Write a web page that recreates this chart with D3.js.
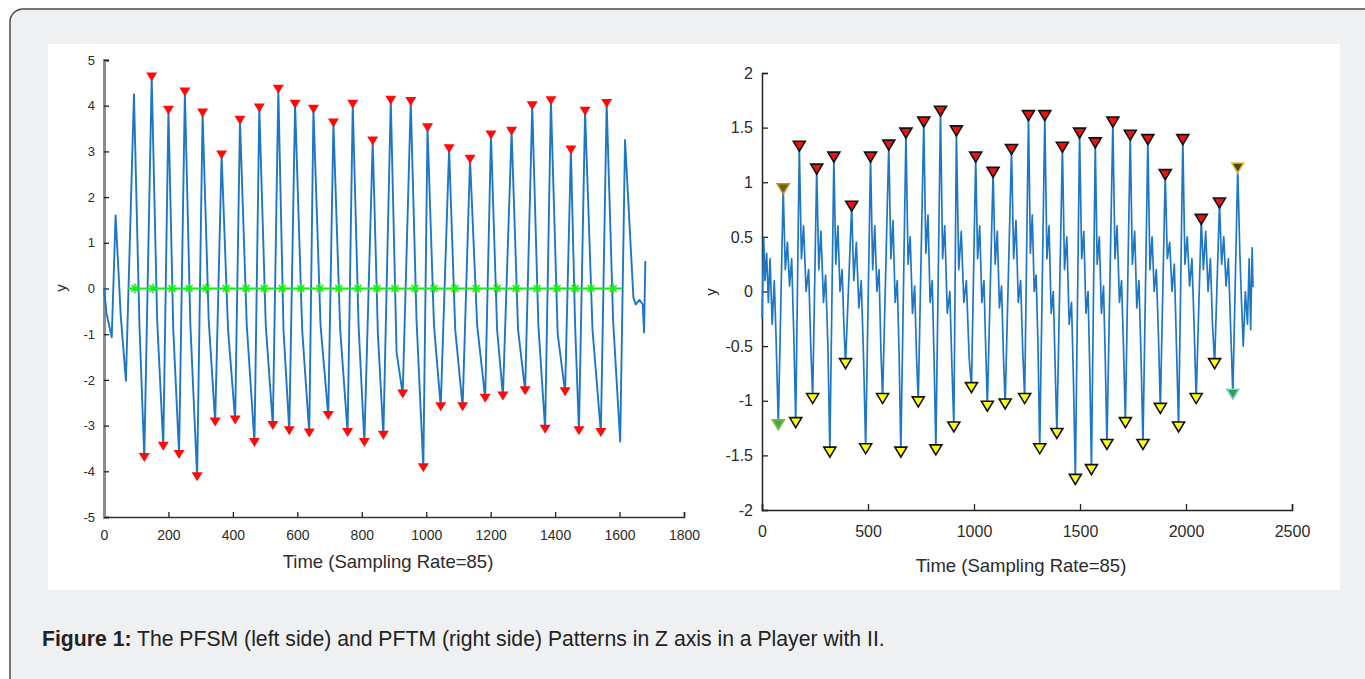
<!DOCTYPE html>
<html>
<head>
<meta charset="utf-8">
<script src="https://cdn.jsdelivr.net/npm/d3@7"></script>
<style>
  body { margin: 0; background: #fff; }
  svg { display: block; font-family: "Liberation Sans", Arial, sans-serif; }
</style>
</head>
<body>
<svg id="fig" width="1365" height="679"></svg>
<script>
// left panel (PFSM): marked peaks / troughs, other vertices of the trace, zero-crossing stars
var leftPeakT = [148,200,251,306,365,422,482,541,593,650,712,772,834,890,952,1004,1071,1136,1201,1265,1329,1387,1449,1493,1560];
var leftPeakY = [4.63,3.9,4.3,3.84,2.92,3.68,3.95,4.36,4.03,3.92,3.62,4.03,3.23,4.12,4.09,3.52,3.06,2.83,3.36,3.44,4.0,4.11,3.03,3.88,4.05];
var leftTroughT = [125,184,233,289,345,407,467,524,575,637,696,756,808,867,927,991,1045,1113,1183,1238,1307,1369,1431,1474,1542];
var leftTroughY = [-3.7,-3.45,-3.63,-4.12,-2.92,-2.88,-3.37,-3.0,-3.11,-3.16,-2.78,-3.15,-3.37,-3.21,-2.31,-3.92,-2.59,-2.59,-2.4,-2.35,-2.24,-3.08,-2.26,-3.11,-3.15];
var leftMidT = [0,8,24,36,52,68,93,110,165,215,268,325,385,443,502,557,615,672,733,790,850,908,970,1024,1090,1158,1220,1285,1348,1408,1462,1516,1580,1602,1617,1643,1650,1662,1672,1676,1680];
var leftMidY = [0.0,-0.55,-1.07,1.6,-0.6,-2.02,4.25,-0.8,-0.7,-0.9,-0.8,-0.7,-0.9,-0.8,-0.8,-0.9,-0.9,-0.8,-0.9,-0.8,-1.0,-1.4,-0.7,-0.8,-0.9,-0.8,-0.9,-0.9,-0.8,-1.0,-0.8,-0.9,-0.7,-3.35,3.25,-0.2,-0.35,-0.25,-0.35,-0.96,0.6];
var leftZeroT = [96,152,211,264,317,379,441,497,553,611,670,729,788,847,903,965,1024,1089,1155,1220,1279,1344,1406,1462,1511,1580];
var leftZeroSpan = [75,1607];

// right panel (PFTM)
var rightPeakT = [100,176,258,339,423,512,598,679,763,842,917,1008,1090,1177,1257,1334,1417,1498,1572,1655,1737,1820,1902,1985,2072,2158,2244];
var rightPeakY = [0.94,1.33,1.12,1.23,0.78,1.23,1.34,1.45,1.55,1.65,1.47,1.23,1.09,1.30,1.61,1.61,1.32,1.45,1.36,1.55,1.43,1.39,1.07,1.39,0.66,0.81,1.13];
var rightTroughT = [77,159,239,320,394,489,569,655,737,820,905,988,1063,1147,1239,1310,1391,1478,1554,1627,1714,1797,1879,1965,2048,2135,2221];
var rightTroughY = [-1.22,-1.2,-0.98,-1.47,-0.66,-1.44,-0.98,-1.47,-1.01,-1.45,-1.24,-0.88,-1.05,-1.03,-0.98,-1.44,-1.30,-1.72,-1.63,-1.40,-1.2,-1.40,-1.07,-1.24,-0.98,-0.66,-0.94];
var rightMidT = [0,8,14,22,30,38,48,58,66,
  110,120,130,140,150, 186,196,208,220,230, 268,278,290,300,311, 348,358,368,378,386,
  433,445,457,468,479, 522,532,542,552,561, 608,618,628,638,647, 689,699,710,720,729,
  773,783,793,803,812, 852,862,874,886,896, 928,940,952,964,977, 1017,1027,1037,1047,1055,
  1100,1110,1120,1130,1139, 1187,1198,1209,1220,1230, 1266,1275,1284,1293,1302, 1344,1354,1364,1374,1383,
  1427,1438,1449,1460,1469, 1508,1518,1528,1538,1546, 1581,1591,1601,1611,1619, 1665,1675,1686,1696,1705,
  1747,1758,1768,1778,1788, 1830,1840,1850,1860,1870, 1912,1923,1934,1945,1955, 1995,2006,2017,2028,2038,
  2082,2093,2104,2115,2125, 2168,2178,2189,2200,2210,
  2254,2262,2270,2280,2290,2298,2305,2312,2316];
var rightMidY = [-0.25,0.5,0.1,0.35,-0.1,0.3,-0.3,0.1,-0.4,
  0.2,0.45,0.05,0.3,-0.4, 0.3,0.6,0.0,0.2,-0.5, 0.2,0.55,-0.1,0.15,-0.5, 0.25,0.6,0.0,0.2,-0.3,
  0.1,0.45,-0.15,0.1,-0.6, 0.2,0.6,0.0,0.2,-0.55, 0.3,0.65,-0.1,0.1,-0.6, 0.25,0.5,-0.2,0.05,-0.6,
  0.35,0.7,-0.1,0.1,-0.65, 0.3,0.6,-0.2,0.0,-0.7, 0.2,0.55,-0.1,0.1,-0.6, 0.3,0.6,-0.1,0.1,-0.5,
  0.25,0.55,-0.15,0.05,-0.6, 0.3,0.65,-0.1,0.1,-0.55, 0.35,0.7,0.0,0.15,-0.5, 0.3,0.6,-0.2,0.0,-0.7,
  0.2,0.5,-0.3,-0.1,-0.8, 0.3,0.55,-0.2,0.0,-0.7, 0.25,0.5,-0.2,0.05,-0.6, 0.3,0.6,-0.1,0.1,-0.5,
  0.25,0.55,-0.15,0.1,-0.6, 0.2,0.5,0.0,0.2,-0.4, 0.3,0.45,0.0,0.25,-0.5, 0.25,0.5,0.05,0.3,-0.3,
  0.2,0.55,0.0,0.3,-0.3, 0.25,0.5,0.05,0.3,-0.3,
  0.35,-0.1,-0.5,0.0,-0.3,0.3,-0.35,0.4,0.04];

var leftXTicks = [0,200,400,600,800,1000,1200,1400,1600,1800];
var leftYTicks = [-5,-4,-3,-2,-1,0,1,2,3,4,5];
var rightXTicks = [0,500,1000,1500,2000,2500];
var rightYTicks = [-2,-1.5,-1,-0.5,0,0.5,1,1.5,2];
var xTitle = "Time (Sampling Rate=85)";
var captionBold = "Figure 1:";
var captionText = " The PFSM (left side) and PFTM (right side) Patterns in Z axis in a Player with II.";

var svg = d3.select('#fig');

svg.append('rect')
    .attr('x', 10).attr('y', 9)
    .attr('width', 1400).attr('height', 720)
    .attr('rx', 13)
    .attr('fill', '#eff0f2')
    .attr('stroke', '#4a4a4a')
    .attr('stroke-width', 1.5);
svg.append('rect')
    .attr('x', 48).attr('y', 44)
    .attr('width', 1292).attr('height', 546)
    .attr('fill', '#fff');

function merge(tA, yA) {
  var pts = [];
  for (var a = 0; a < arguments.length; a += 2) {
    var ts = arguments[a], ys = arguments[a + 1];
    for (var i = 0; i < ts.length; i++) pts.push({t: ts[i], y: ys[i]});
  }
  pts.sort(function(p, q){ return p.t - q.t; });
  return pts;
}

function tri(w, h) {
  return 'M' + (-w) + ',' + (-h) + 'L' + w + ',' + (-h) + 'L0,' + h + 'Z';
}

function star(r) {
  var d = '';
  for (var k = 0; k < 4; k++) {
    var a = k * Math.PI / 4;
    d += 'M' + (-r * Math.cos(a)) + ',' + (-r * Math.sin(a)) + 'L' + (r * Math.cos(a)) + ',' + (r * Math.sin(a));
  }
  return d;
}

function styleAxis(g, size) {
  g.selectAll('text')
    .attr('fill', '#2b2b2b')
    .style('font-size', size + 'px');
  g.selectAll('.tick line').attr('stroke', '#222').attr('stroke-width', 1.3);
}

// ---------- left panel ----------
(function() {
  var x = d3.scaleLinear().domain([0, 1800]).range([104, 684]);
  var y = d3.scaleLinear().domain([-5, 5]).range([517, 60]);
  var g = svg.append('g');

  var gx = g.append('g')
      .attr('transform', 'translate(0,517)')
      .call(d3.axisBottom(x).tickValues(leftXTicks).tickSize(-5).tickPadding(13).tickFormat(function(d){ return String(d); }));
  gx.select('.domain').attr('stroke', '#333').attr('stroke-width', 1.5);
  styleAxis(gx, 14);

  var gy = g.append('g')
      .attr('transform', 'translate(104,0)')
      .call(d3.axisLeft(y).tickValues(leftYTicks).tickSize(-5).tickPadding(9).tickFormat(function(d){ return String(d); }));
  gy.select('.domain').attr('stroke', '#8c8c8c').attr('stroke-width', 3);
  styleAxis(gy, 13);

  var line = d3.line().x(function(d){ return x(d.t); }).y(function(d){ return y(d.y); });
  g.append('path')
    .datum(merge(leftPeakT, leftPeakY, leftTroughT, leftTroughY, leftMidT, leftMidY))
    .attr('d', line)
    .attr('fill', 'none')
    .attr('stroke', '#1f77c3')
    .attr('stroke-width', 1.9)
    .attr('stroke-linejoin', 'round');

  g.append('line')
    .attr('x1', x(leftZeroSpan[0])).attr('x2', x(leftZeroSpan[1]))
    .attr('y1', y(0)).attr('y2', y(0))
    .attr('stroke', '#10f010').attr('stroke-width', 2);
  g.selectAll('.zs').data(leftZeroT).enter().append('path')
    .attr('d', star(5))
    .attr('transform', function(d){ return 'translate(' + x(d) + ',' + y(0) + ')'; })
    .attr('stroke', '#10f010').attr('stroke-width', 1.5).attr('fill', 'none');

  var marks = merge(leftPeakT, leftPeakY, leftTroughT, leftTroughY);
  g.selectAll('.lm').data(marks).enter().append('path')
    .attr('d', tri(5.5, 4.5))
    .attr('transform', function(d){ return 'translate(' + x(d.t) + ',' + y(d.y) + ')'; })
    .attr('fill', '#ff0a0a');

  g.append('text')
    .attr('x', 388).attr('y', 568)
    .attr('text-anchor', 'middle')
    .attr('fill', '#2b2b2b')
    .style('font-size', '18.5px')
    .text(xTitle);
  g.append('text')
    .attr('transform', 'translate(66,288) rotate(-90)')
    .attr('text-anchor', 'middle')
    .attr('fill', '#2b2b2b')
    .style('font-size', '15px')
    .text('y');
})();

// ---------- right panel ----------
(function() {
  var x = d3.scaleLinear().domain([0, 2500]).range([762, 1292]);
  var y = d3.scaleLinear().domain([-2, 2]).range([510, 73]);
  var g = svg.append('g');

  var gx = g.append('g')
      .attr('transform', 'translate(0,510)')
      .call(d3.axisBottom(x).tickValues(rightXTicks).tickSize(-6).tickPadding(16).tickFormat(function(d){ return String(d); }));
  gx.select('.domain').attr('stroke', '#222').attr('stroke-width', 1.5);
  styleAxis(gx, 16);

  var gy = g.append('g')
      .attr('transform', 'translate(762,0)')
      .call(d3.axisLeft(y).tickValues(rightYTicks).tickSize(-6).tickPadding(9).tickFormat(function(d){ return String(d); }));
  gy.select('.domain').attr('stroke', '#222').attr('stroke-width', 1.5);
  styleAxis(gy, 16);

  var line = d3.line().x(function(d){ return x(d.t); }).y(function(d){ return y(d.y); });
  g.append('path')
    .datum(merge(rightPeakT, rightPeakY, rightTroughT, rightTroughY, rightMidT, rightMidY))
    .attr('d', line)
    .attr('fill', 'none')
    .attr('stroke', '#1f77c3')
    .attr('stroke-width', 1.7)
    .attr('stroke-linejoin', 'round');

  var n = rightPeakT.length;
  g.selectAll('.rp').data(rightPeakT).enter().append('path')
    .attr('d', tri(6, 5))
    .attr('transform', function(d, i){ return 'translate(' + x(d) + ',' + y(rightPeakY[i]) + ')'; })
    .attr('fill', function(d, i){ return i == 0 ? '#5a6a10' : (i == n - 1 ? '#4a4a10' : '#ee1111'); })
    .attr('stroke', function(d, i){ return i == 0 ? '#e07a20' : (i == n - 1 ? '#e8c040' : '#111'); })
    .attr('stroke-width', 1.6);

  var m = rightTroughT.length;
  g.selectAll('.rt').data(rightTroughT).enter().append('path')
    .attr('d', tri(6, 5))
    .attr('transform', function(d, i){ return 'translate(' + x(d) + ',' + y(rightTroughY[i]) + ')'; })
    .attr('fill', function(d, i){ return i == 0 ? '#4aa832' : (i == m - 1 ? '#3a9a40' : '#ffff10'); })
    .attr('stroke', function(d, i){ return i == 0 ? '#6cc050' : (i == m - 1 ? '#70d0e0' : '#111'); })
    .attr('stroke-width', 1.6);

  g.append('text')
    .attr('x', 1021).attr('y', 572)
    .attr('text-anchor', 'middle')
    .attr('fill', '#2b2b2b')
    .style('font-size', '18.5px')
    .text(xTitle);
  g.append('text')
    .attr('transform', 'translate(716,292) rotate(-90)')
    .attr('text-anchor', 'middle')
    .attr('fill', '#2b2b2b')
    .style('font-size', '15px')
    .text('y');
})();

// caption
var cap = svg.append('text')
    .attr('x', 42).attr('y', 646)
    .attr('fill', '#222')
    .style('font-size', '21.2px');
cap.append('tspan').attr('font-weight', 'bold').text(captionBold);
cap.append('tspan').text(captionText);
</script>
</body>
</html>
